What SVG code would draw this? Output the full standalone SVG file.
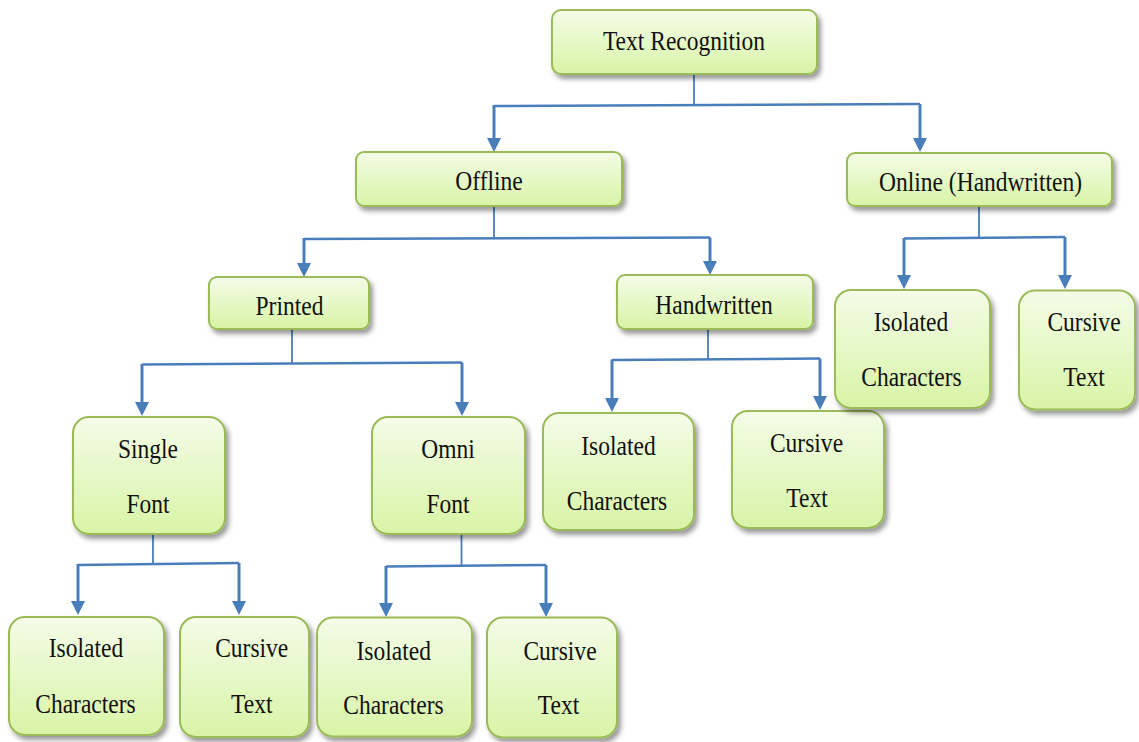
<svg xmlns="http://www.w3.org/2000/svg" width="1139" height="742" viewBox="0 0 1139 742">
<defs>
  <linearGradient id="g" x1="0" y1="0" x2="0" y2="1">
    <stop offset="0" stop-color="#f4fce8"/>
    <stop offset="1" stop-color="#d8f4a6"/>
  </linearGradient>
  <filter id="sh" x="-10%" y="-10%" width="130%" height="140%">
    <feDropShadow dx="3" dy="4" stdDeviation="2.5" flood-color="#000" flood-opacity="0.4"/>
  </filter>
  <marker id="ah" viewBox="0 0 14 14" refX="9" refY="7" markerWidth="14" markerHeight="14" markerUnits="userSpaceOnUse" orient="auto">
    <path d="M0,0 L14,7 L0,14 z" fill="#4a7ebb"/>
  </marker>
  <style>
    .box{fill:url(#g);stroke:#9bbb59;stroke-width:2;filter:url(#sh)}
    .t{font-family:"Liberation Serif","Times New Roman",serif;font-size:28px;fill:#111;text-anchor:middle}
    .bar{fill:none;stroke:#4a7ebb;stroke-width:2.5}
    .stub{fill:none;stroke:#4a7ebb;stroke-width:1.8}
    .arr{fill:none;stroke:#4a7ebb;stroke-width:3;marker-end:url(#ah)}
  </style>
</defs>
<rect width="1139" height="742" fill="#fff"/>

<g id="connectors">
  <path class="stub" d="M694 75 V105"/>
  <path class="bar" d="M494 106 L920 104"/>
  <path class="arr" d="M494 105 V147"/>
  <path class="arr" d="M920 104 V147"/>

  <path class="stub" d="M494 207 V238"/>
  <path class="bar" d="M304 239 L710 237.5"/>
  <path class="arr" d="M304 238 V272"/>
  <path class="arr" d="M710 237.5 V270"/>

  <path class="stub" d="M979 206 V237"/>
  <path class="bar" d="M904 238.5 L1065 237"/>
  <path class="arr" d="M904 238 V284"/>
  <path class="arr" d="M1065 237 V284"/>

  <path class="stub" d="M292 330 V363"/>
  <path class="bar" d="M142 364.5 L462 362.5"/>
  <path class="arr" d="M142 364 V411"/>
  <path class="arr" d="M462 362.5 V411"/>

  <path class="stub" d="M708 329 V359"/>
  <path class="bar" d="M612 360 L820 358.5"/>
  <path class="arr" d="M612 359.5 V407"/>
  <path class="arr" d="M820 358.5 V405"/>

  <path class="stub" d="M153 535 V563"/>
  <path class="bar" d="M78 565 L239 563"/>
  <path class="arr" d="M78 564 V610"/>
  <path class="arr" d="M239 563 V610"/>

  <path class="stub" d="M461.5 535 V565"/>
  <path class="bar" d="M386 566.5 L546 565"/>
  <path class="arr" d="M386 566 V612"/>
  <path class="arr" d="M546 565 V612"/>
</g>

<g id="n-text-recognition">
  <rect class="box" x="552" y="10" width="265" height="64" rx="9"/>
  <text class="t" transform="translate(684 50) scale(0.84 1)">Text Recognition</text>
</g>
<g id="n-offline">
  <rect class="box" x="356" y="152" width="266" height="54" rx="8"/>
  <text class="t" transform="translate(489 190) scale(0.84 1)">Offline</text>
</g>
<g id="n-online">
  <rect class="box" x="847" y="153" width="265" height="53" rx="8"/>
  <text class="t" transform="translate(980.5 190.5) scale(0.84 1)">Online (Handwritten)</text>
</g>
<g id="n-printed">
  <rect class="box" x="209" y="277" width="160" height="52" rx="8"/>
  <text class="t" transform="translate(289.5 315) scale(0.84 1)">Printed</text>
</g>
<g id="n-handwritten">
  <rect class="box" x="617" y="275" width="196" height="54" rx="8"/>
  <text class="t" transform="translate(714 314) scale(0.84 1)">Handwritten</text>
</g>
<g id="n-single-font">
  <rect class="box" x="73" y="417" width="152" height="117" rx="16"/>
  <text class="t" transform="translate(148 458) scale(0.84 1)">Single</text>
  <text class="t" transform="translate(148 513) scale(0.84 1)">Font</text>
</g>
<g id="n-omni-font">
  <rect class="box" x="372" y="417" width="153" height="117" rx="16"/>
  <text class="t" transform="translate(448 458) scale(0.84 1)">Omni</text>
  <text class="t" transform="translate(448 513) scale(0.84 1)">Font</text>
</g>
<g id="n-hw-isolated">
  <rect class="box" x="543" y="413" width="151" height="117" rx="16"/>
  <text class="t" transform="translate(618.5 455) scale(0.84 1)">Isolated</text>
  <text class="t" transform="translate(617 510) scale(0.84 1)">Characters</text>
</g>
<g id="n-hw-cursive">
  <rect class="box" x="732" y="411" width="152" height="117" rx="16"/>
  <text class="t" transform="translate(806.5 452) scale(0.84 1)">Cursive</text>
  <text class="t" transform="translate(807 507) scale(0.84 1)">Text</text>
</g>
<g id="n-on-isolated">
  <rect class="box" x="835" y="290" width="155" height="118" rx="16"/>
  <text class="t" transform="translate(911 331) scale(0.84 1)">Isolated</text>
  <text class="t" transform="translate(911.5 385.5) scale(0.84 1)">Characters</text>
</g>
<g id="n-on-cursive">
  <rect class="box" x="1019" y="290.5" width="116" height="119" rx="16"/>
  <text class="t" transform="translate(1084 331) scale(0.84 1)">Cursive</text>
  <text class="t" transform="translate(1084 385.5) scale(0.84 1)">Text</text>
</g>
<g id="n-sf-isolated">
  <rect class="box" x="9" y="617" width="155" height="118" rx="16"/>
  <text class="t" transform="translate(86 657) scale(0.84 1)">Isolated</text>
  <text class="t" transform="translate(85.5 713) scale(0.84 1)">Characters</text>
</g>
<g id="n-sf-cursive">
  <rect class="box" x="180" y="617" width="129" height="120" rx="16"/>
  <text class="t" transform="translate(251.7 657) scale(0.84 1)">Cursive</text>
  <text class="t" transform="translate(251.7 713) scale(0.84 1)">Text</text>
</g>
<g id="n-of-isolated">
  <rect class="box" x="317" y="617.5" width="155" height="119" rx="16"/>
  <text class="t" transform="translate(393.7 659.5) scale(0.84 1)">Isolated</text>
  <text class="t" transform="translate(393.5 713.5) scale(0.84 1)">Characters</text>
</g>
<g id="n-of-cursive">
  <rect class="box" x="487" y="617.5" width="130" height="120" rx="16"/>
  <text class="t" transform="translate(560 659.5) scale(0.84 1)">Cursive</text>
  <text class="t" transform="translate(558.5 713.5) scale(0.84 1)">Text</text>
</g>
</svg>
